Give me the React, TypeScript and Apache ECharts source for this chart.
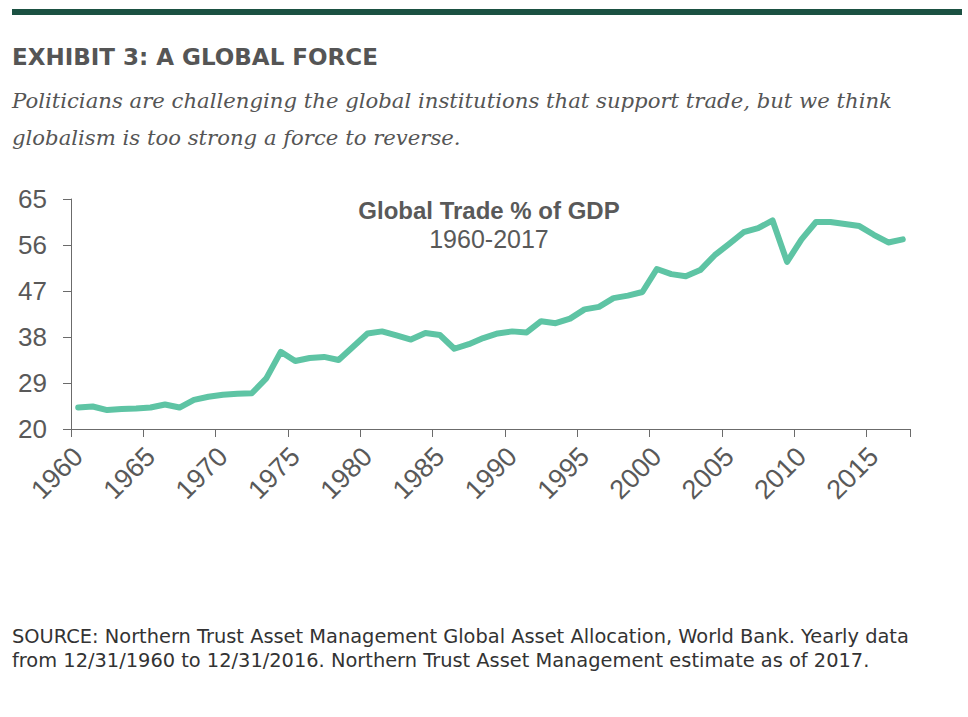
import React, { useEffect, useRef } from 'react';
import * as echarts from 'echarts';

const years: string[] = [
  '1960', '1961', '1962', '1963', '1964', '1965', '1966', '1967', '1968', '1969',
  '1970', '1971', '1972', '1973', '1974', '1975', '1976', '1977', '1978', '1979',
  '1980', '1981', '1982', '1983', '1984', '1985', '1986', '1987', '1988', '1989',
  '1990', '1991', '1992', '1993', '1994', '1995', '1996', '1997', '1998', '1999',
  '2000', '2001', '2002', '2003', '2004', '2005', '2006', '2007', '2008', '2009',
  '2010', '2011', '2012', '2013', '2014', '2015', '2016', '2017',
];

const tradePctGdp: number[] = [
  24.2, 24.4, 23.7, 23.9, 24.0, 24.2, 24.8, 24.2, 25.7, 26.3,
  26.7, 26.9, 27.0, 29.9, 35.1, 33.3, 33.9, 34.1, 33.5, 36.1,
  38.7, 39.1, 38.3, 37.5, 38.8, 38.4, 35.7, 36.6, 37.8, 38.7,
  39.1, 38.9, 41.1, 40.7, 41.6, 43.4, 43.9, 45.6, 46.1, 46.8,
  51.3, 50.3, 49.9, 51.1, 54.0, 56.2, 58.5, 59.3, 60.8, 52.7,
  57.1, 60.5, 60.5, 60.1, 59.7, 58.0, 56.5, 57.1,
];

const yMin = 20;
const yMax = 65;
const yStep = 9;

const exhibitTitle = 'EXHIBIT 3: A GLOBAL FORCE';
const subtitleLines = [
  'Politicians are challenging the global institutions that support trade, but we think',
  'globalism is too strong a force to reverse.',
];
const chartTitle = 'Global Trade % of GDP';
const chartSubtitle = '1960-2017';
const sourceLines = [
  'SOURCE: Northern Trust Asset Management Global Asset Allocation, World Bank. Yearly data',
  'from 12/31/1960 to 12/31/2016. Northern Trust Asset Management estimate as of 2017.',
];

const SANS = '"Liberation Sans", Arial, sans-serif';
const DEJAVU = '"DejaVu Sans", sans-serif';
const SERIF = '"DejaVu Serif", serif';
const GRAY = '#595959';

export default function App() {
  const ref = useRef<HTMLDivElement>(null);

  useEffect(() => {
    if (!ref.current) return;
    const chart = echarts.init(ref.current, undefined, { renderer: 'svg' });
    chart.setOption({
      animation: false,
      backgroundColor: '#ffffff',
      grid: { left: 71, right: 58, top: 199, bottom: 288, containLabel: false },
      xAxis: {
        type: 'category',
        data: years,
        boundaryGap: true,
        axisLine: { show: true, lineStyle: { color: '#6b6b6b', width: 1 } },
        axisTick: { show: true, interval: 4, length: 8, lineStyle: { color: '#6b6b6b' } },
        axisLabel: {
          interval: 4,
          rotate: 45,
          margin: 23,
          color: GRAY,
          fontFamily: SANS,
          fontSize: 27,
        },
        splitLine: { show: false },
      },
      yAxis: {
        type: 'value',
        min: yMin,
        max: yMax,
        interval: yStep,
        axisLine: { show: true, lineStyle: { color: '#6b6b6b', width: 1 } },
        axisTick: { show: true, length: 8, lineStyle: { color: '#6b6b6b' } },
        axisLabel: {
          margin: 24,
          color: GRAY,
          fontFamily: SANS,
          fontSize: 26,
        },
        splitLine: { show: false },
      },
      series: [
        {
          type: 'line',
          data: tradePctGdp,
          symbol: 'none',
          lineStyle: { color: '#5ec4a4', width: 6, join: 'round', cap: 'round' },
        },
      ],
      graphic: [
        {
          type: 'rect',
          shape: { x: 12, y: 9, width: 950, height: 6 },
          style: { fill: '#1b5142' },
        },
        {
          type: 'text',
          x: 12,
          y: 57,
          style: {
            text: exhibitTitle,
            font: `bold 23px ${DEJAVU}`,
            fill: '#555555',
            textVerticalAlign: 'middle',
          },
        },
        {
          type: 'text',
          x: 12,
          y: 100,
          style: {
            text: subtitleLines[0],
            font: `italic 21.2px ${SERIF}`,
            fill: '#555555',
            textVerticalAlign: 'middle',
          },
        },
        {
          type: 'text',
          x: 12,
          y: 137,
          style: {
            text: subtitleLines[1],
            font: `italic 21.2px ${SERIF}`,
            fill: '#555555',
            textVerticalAlign: 'middle',
          },
        },
        {
          type: 'text',
          x: 489,
          y: 210,
          style: {
            text: chartTitle,
            font: `bold 24px ${SANS}`,
            fill: '#595959',
            textAlign: 'center',
            textVerticalAlign: 'middle',
          },
        },
        {
          type: 'text',
          x: 489,
          y: 239,
          style: {
            text: chartSubtitle,
            font: `25px ${SANS}`,
            fill: '#595959',
            textAlign: 'center',
            textVerticalAlign: 'middle',
          },
        },
        {
          type: 'text',
          x: 12,
          y: 636,
          style: {
            text: sourceLines[0],
            font: `19.4px ${DEJAVU}`,
            fill: '#333333',
            textVerticalAlign: 'middle',
          },
        },
        {
          type: 'text',
          x: 12,
          y: 660,
          style: {
            text: sourceLines[1],
            font: `19.4px ${DEJAVU}`,
            fill: '#333333',
            textVerticalAlign: 'middle',
          },
        },
      ],
    });
    return () => chart.dispose();
  }, []);

  return (
    <div
      ref={ref}
      style={{ position: 'fixed', left: 0, top: 0, width: 968, height: 717, background: '#fff' }}
    />
  );
}
